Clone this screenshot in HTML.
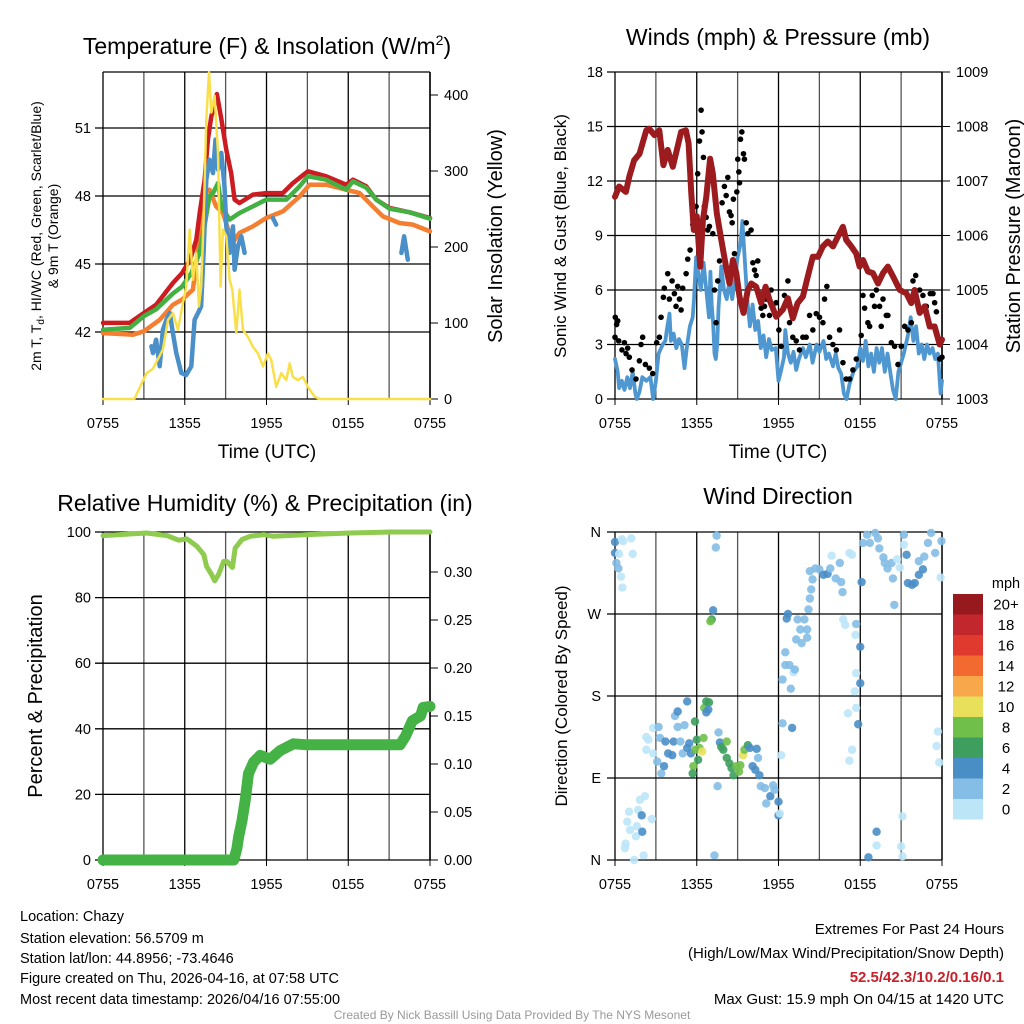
<!DOCTYPE html>
<html><head><meta charset="utf-8"><style>
html,body{margin:0;padding:0;background:#fff;}
svg{display:block;font-family:"Liberation Sans",Arial,sans-serif;}
</style></head><body>
<svg id="c" width="1024" height="1024" viewBox="0 0 1024 1024" xmlns="http://www.w3.org/2000/svg">
<rect width="1024" height="1024" fill="#fff"/>
<text x="267" y="54" font-size="23" text-anchor="middle">Temperature (F) &amp; Insolation (W/m<tspan dy="-9" font-size="14">2</tspan><tspan dy="9">)</tspan></text>
<text x="778" y="45" font-size="23" text-anchor="middle">Winds (mph) &amp; Pressure (mb)</text>
<text x="265" y="511" font-size="23" text-anchor="middle">Relative Humidity (%) &amp; Precipitation (in)</text>
<text x="778" y="504" font-size="23" text-anchor="middle">Wind Direction</text>

<text transform="translate(41,236) rotate(-90)" font-size="14" text-anchor="middle">2m T, T<tspan dy="3" font-size="10">d</tspan><tspan dy="-3">, HI/WC (Red, Green, Scarlet/Blue)</tspan></text>
<text transform="translate(58,236) rotate(-90)" font-size="14" text-anchor="middle">&amp; 9m T (Orange)</text>
<text transform="translate(502,236) rotate(-90)" font-size="20" text-anchor="middle">Solar Insolation (Yellow)</text>
<text transform="translate(566,236) rotate(-90)" font-size="17" text-anchor="middle">Sonic Wind &amp; Gust (Blue, Black)</text>
<text transform="translate(1020,236) rotate(-90)" font-size="20" text-anchor="middle">Station Pressure (Maroon)</text>
<text transform="translate(42,696) rotate(-90)" font-size="20" text-anchor="middle">Percent &amp; Precipitation</text>
<text transform="translate(567,696) rotate(-90)" font-size="17" text-anchor="middle">Direction (Colored By Speed)</text>
<text x="267" y="458" font-size="19" text-anchor="middle">Time (UTC)</text>
<text x="778" y="458" font-size="19" text-anchor="middle">Time (UTC)</text>

<g font-size="14.5">
<text x="20" y="921">Location: Chazy</text>
<text x="20" y="943">Station elevation: 56.5709 m</text>
<text x="20" y="963">Station lat/lon: 44.8956; -73.4646</text>
<text x="20" y="983">Figure created on Thu, 2026-04-16, at 07:58 UTC</text>
<text x="20" y="1004">Most recent data timestamp: 2026/04/16 07:55:00</text>
</g>
<g font-size="15" text-anchor="end">
<text x="1004" y="934">Extremes For Past 24 Hours</text>
<text x="1004" y="958">(High/Low/Max Wind/Precipitation/Snow Depth)</text>
<text x="1004" y="982" fill="#c8202a" font-weight="bold">52.5/42.3/10.2/0.16/0.1</text>
<text x="1004" y="1004">Max Gust: 15.9 mph On 04/15 at 1420 UTC</text>
</g>
<text x="512" y="1019" font-size="12" fill="#999" text-anchor="middle">Created By Nick Bassill Using Data Provided By The NYS Mesonet</text>
<g id="layer"></g>
</svg>
<script>
// ---- data ----
const timeTicks = ["0755","1355","1955","0155","0755"];
const tempTicks = [42,45,48,51];
const solarTicks = [0,100,200,300,400];
const windTicks = [0,3,6,9,12,15,18];
const presTicks = [1003,1004,1005,1006,1007,1008,1009];
const rhTicks = [0,20,40,60,80,100];
const precipTicks = ["0.00","0.05","0.10","0.15","0.20","0.25","0.30"];
const dirTicks = ["N","E","S","W","N"];
const speedBins = ["0","2","4","6","8","10","12","14","16","18","20+"];

const redT = [[0,42.4],[1.96,42.4],[3,42.84],[3.9,43.2],[5.13,44.16],[5.8,44.6],[6.4,45.2],[6.85,46.07],[7.1,47.25],[7.46,48.7],[7.7,50.5],[7.95,51.5],[8.36,52.5],[8.68,51.4],[9.05,50.04],[9.41,49.0],[9.66,47.84],[10.02,47.69],[11,48.06],[11.98,48.13],[13.2,48.13],[13.94,48.57],[15.04,49.09],[16.38,48.87],[17.85,48.5],[18.34,48.72],[19.32,48.43],[20.05,47.84],[21.03,47.47],[22.5,47.28],[24,47.03]];
const greenT = [[0,42.1],[1.96,42.18],[3,42.7],[3.9,43.0],[5.13,43.7],[5.8,44.0],[6.48,44.6],[7.1,45.5],[7.46,46.7],[7.82,48.0],[8.07,48.13],[8.44,48.57],[8.68,47.54],[9.29,46.96],[10.02,47.25],[11,47.54],[11.98,47.84],[13.45,47.84],[14.43,48.43],[15.04,48.87],[16.38,48.72],[17.85,48.28],[18.34,48.65],[19.32,48.37],[20.05,47.84],[21.03,47.44],[22.5,47.28],[24,47.0]];
const orangeT = [[0,41.95],[2.2,41.88],[3,42.03],[4.16,42.54],[5.13,43.2],[5.8,43.43],[6.6,43.87],[7.1,46.22],[7.46,48.13],[7.82,48.28],[8.3,47.54],[8.8,47.25],[9.5,45.93],[10.02,46.37],[11,46.66],[11.98,47.03],[13.2,47.32],[14.43,47.98],[15.16,48.5],[16.38,48.5],[17.85,48.28],[18.83,48.13],[19.8,47.54],[20.54,47.1],[21.76,46.81],[22.74,46.74],[24,46.44]];
const dewSeg1 = [[3.55,41.37],[3.67,41.07],[3.9,41.66],[4.16,40.49],[4.4,42.1],[4.65,42.54],[4.9,42.84],[5.13,41.95],[5.38,41.07],[5.75,40.19],[6.1,40.1],[6.48,40.49],[6.72,42.54],[6.97,42.84],[7.2,43.13],[7.38,45.49],[7.58,48.72],[7.82,49.6],[8.07,49.01],[8.26,50.49],[8.44,49.16],[8.68,49.9],[8.92,48.43],[9.05,46.66],[9.29,45.49],[9.54,46.66],[9.66,44.75],[9.9,45.78],[10.15,46.22],[10.39,45.49]];
const dewSeg2 = [[12.47,47.03],[12.71,46.74]];
const dewSeg3 = [[21.9,45.49],[22.1,46.22],[22.37,45.19]];
const solar = [[0,0],[2.3,0],[3.2,34],[3.67,40],[4.4,65],[4.77,104],[5.13,113],[5.5,91],[5.82,122],[6.11,148],[6.36,223],[6.6,157],[6.85,192],[7.04,122],[7.21,148],[7.38,236],[7.58,368],[7.78,430],[7.95,377],[8.19,399],[8.44,324],[8.63,148],[8.8,223],[9.05,214],[9.29,157],[9.49,144],[9.78,87],[10.02,144],[10.27,91],[10.63,82],[11,69],[11.37,60],[11.74,43],[12.1,60],[12.35,51],[12.71,16],[13.08,34],[13.45,25],[13.7,47],[13.94,29],[14.3,25],[14.67,29],[15.04,16],[15.53,3],[15.9,0],[24,0]];

const windSpd = [[0,2.2],[0.2,1.5],[0.3,0.6],[0.5,1.0],[0.7,0.5],[0.9,1.2],[1.1,0.6],[1.3,1.5],[1.5,0.3],[1.6,0],[1.8,0.4],[2.0,1.2],[2.3,1.0],[2.6,1.2],[2.75,0.3],[2.8,0],[3.0,1],[3.2,2.5],[3.5,3],[3.7,3.2],[3.8,3.8],[4.0,4.7],[4.1,3.2],[4.3,3.6],[4.5,2.8],[4.7,3.3],[4.9,3.0],[5.1,1.7],[5.3,3],[5.5,4],[5.7,4.5],[5.8,5.5],[5.95,7.8],[6.1,7],[6.3,6.0],[6.5,7.5],[6.7,6],[6.9,4.5],[7.0,7],[7.1,5.2],[7.2,4.2],[7.3,2.5],[7.4,2.2],[7.5,3],[7.6,5],[7.8,7.3],[8.0,6],[8.2,5.5],[8.4,6.5],[8.6,5.5],[8.8,6.5],[9.0,7.8],[9.2,8.5],[9.35,9.8],[9.5,8],[9.7,5.5],[9.9,4],[10.1,5.2],[10.3,3.8],[10.5,4.3],[10.7,2.8],[10.9,3.5],[11.1,2.3],[11.3,3.3],[11.5,2.7],[11.8,2.8],[12.0,1.0],[12.2,1.6],[12.4,2.3],[12.5,3.8],[12.7,2.5],[12.9,2.0],[13.1,2.6],[13.3,1.6],[13.5,2.2],[13.8,2.8],[14.0,2.3],[14.3,3.0],[14.5,2.0],[14.8,3.0],[15.0,2.6],[15.3,3.2],[15.5,2.2],[15.7,2.5],[16.0,1.8],[16.2,2.5],[16.4,1.7],[16.6,1.4],[16.8,0.3],[17.0,0],[17.2,0.8],[17.5,1.5],[17.8,1.8],[18.0,2.8],[18.2,2.1],[18.4,3.2],[18.6,1.8],[18.8,2.5],[19.0,1.5],[19.2,2.8],[19.4,2.0],[19.6,2.8],[19.8,1.5],[20.0,2.5],[20.2,1.5],[20.4,0.5],[20.6,0],[20.8,1.5],[21.0,2.0],[21.2,2.5],[21.5,3.5],[21.7,4.5],[21.9,3.2],[22.1,4],[22.3,2.5],[22.5,3],[22.7,2.2],[22.9,3],[23.1,2.5],[23.3,2.8],[23.5,2.2],[23.7,2.5],[23.9,0.3],[24,1.0]];
const gusts = [[0,3.4],[0.02,4.5],[0.12,4.1],[0.2,4.3],[0.27,3.2],[0.51,2.7],[0.69,3.1],[0.81,2.5],[0.93,2.8],[1.05,2.3],[1.25,1.6],[1.54,1.1],[1.79,2.1],[1.91,3.0],[2.03,3.4],[2.23,1.9],[2.52,1.7],[2.77,1.4],[3.06,3.1],[3.26,3.4],[3.38,4.5],[3.62,6.1],[3.55,5.6],[3.87,6.9],[3.99,5.5],[4.19,6.5],[4.36,5.8],[4.48,5.1],[4.6,6.2],[4.73,5.5],[4.85,4.9],[4.97,6.1],[5.22,6.9],[5.34,7.7],[5.51,8.2],[5.71,9.6],[5.95,10.6],[6.07,12.4],[6.2,14.2],[6.32,15.9],[6.39,14.7],[6.49,13.3],[6.56,10.6],[6.69,10.0],[6.81,9.3],[6.93,9.5],[7.18,9.1],[7.3,6.0],[7.42,4.2],[7.54,6.5],[7.67,7.6],[7.86,10.8],[8.03,11.7],[8.16,11.2],[8.28,12.2],[8.4,10.3],[8.52,10.1],[8.6,9.7],[8.69,11.0],[8.77,8.0],[8.94,11.4],[9.01,13.2],[9.09,12.5],[9.14,11.9],[9.21,14.3],[9.31,14.7],[9.43,13.5],[9.5,13.2],[9.63,9.7],[9.75,9.1],[9.99,9.3],[10.12,7.5],[10.24,7.1],[10.36,6.8],[10.48,7.6],[10.6,5.8],[10.73,5.0],[10.85,4.6],[10.97,5.1],[11.09,5.5],[11.34,4.6],[11.46,6.0],[11.58,5.1],[11.83,5.3],[12.03,3.8],[12.2,2.9],[12.44,5.7],[12.69,6.5],[12.81,4.2],[13.05,3.4],[13.3,3.2],[13.54,2.7],[13.79,3.4],[14.03,3.4],[14.28,4.6],[14.52,3.8],[14.77,4.7],[15.01,4.5],[15.26,4.2],[15.38,5.5],[15.55,6.2],[15.75,3.4],[15.99,3.0],[16.24,2.7],[16.48,3.8],[16.73,2.0],[16.97,1.1],[17.22,1.1],[17.46,1.6],[17.71,2.2],[18.07,3.5],[18.2,5.7],[18.32,5.0],[18.56,4.2],[18.69,4.0],[18.88,5.7],[19.05,5.1],[19.18,6.0],[19.42,5.1],[19.54,4.0],[19.67,5.5],[19.91,4.6],[20.03,4.6],[20.28,3.1],[20.52,2.9],[20.77,1.9],[21.01,2.9],[21.26,4.0],[21.5,3.8],[21.75,4.2],[21.87,6.5],[22.07,6.8],[22.36,6.0],[22.6,5.7],[22.85,5.1],[23.14,5.8],[23.34,5.8],[23.46,5.3],[23.59,4.8],[23.83,2.2],[24,2.3]];
const pressure = [[0,1006.71],[0.3,1006.9],[0.8,1006.8],[1.05,1007.08],[1.4,1007.38],[1.8,1007.5],[2.3,1007.93],[2.5,1007.96],[2.9,1007.84],[3.25,1007.93],[3.55,1007.29],[3.87,1007.57],[4.24,1007.26],[4.85,1007.9],[5.2,1007.93],[5.4,1007.69],[5.6,1006.77],[5.78,1006.1],[6.0,1006.35],[6.25,1005.43],[6.45,1006.28],[6.7,1006.71],[6.98,1007.41],[7.18,1007.14],[7.47,1006.41],[7.8,1005.92],[8.15,1005.43],[8.4,1005.12],[8.65,1005.55],[8.9,1005.31],[9.14,1004.88],[9.43,1004.58],[9.75,1005.0],[10.0,1005.12],[10.36,1005.06],[10.73,1004.76],[11.05,1005.06],[11.34,1004.82],[11.83,1004.51],[12.32,1004.64],[12.69,1004.85],[13.05,1004.48],[13.4,1004.76],[13.79,1004.88],[14.15,1005.25],[14.52,1005.61],[14.9,1005.61],[15.26,1005.8],[15.62,1005.89],[16.0,1005.8],[16.36,1005.98],[16.73,1006.16],[16.97,1005.92],[17.34,1005.8],[17.7,1005.67],[17.95,1005.43],[18.2,1005.55],[18.56,1005.34],[18.93,1005.31],[19.3,1005.12],[19.67,1005.31],[20.03,1005.43],[20.4,1005.25],[20.9,1005.0],[21.38,1004.94],[21.75,1004.76],[21.99,1005.0],[22.36,1004.58],[22.73,1004.7],[23.1,1004.33],[23.46,1004.33],[23.83,1004.0],[24,1004.09]];

const rh = [[0,98.9],[3.2,99.7],[4.7,98.9],[5.55,97.5],[6.16,97.9],[6.9,95.6],[7.4,93.1],[7.6,89.5],[7.97,87],[8.2,85.1],[8.48,87],[8.85,91],[9.1,91],[9.5,89.2],[9.7,95.1],[10.2,97.7],[10.8,98.7],[11.8,99.2],[12.5,98.7],[15,99.2],[18.1,99.7],[21.1,100],[24,100]];
const precip = [[0,0],[1,0],[2,0],[3,0],[4,0],[5,0],[6,0],[7,0],[8,0],[9,0],[9.6,0],[9.83,0.012],[9.95,0.024],[10.2,0.041],[10.44,0.062],[10.68,0.09],[11.05,0.102],[11.54,0.109],[12.27,0.105],[13.0,0.114],[13.98,0.121],[15,0.12],[16.2,0.12],[18,0.12],[20,0.12],[21.8,0.12],[22.2,0.129],[22.7,0.145],[23.3,0.15],[23.5,0.159],[24,0.16]];

const dirHours = [0,0,0.1,0.25,0.44,0.54,0.5,0.6,0.3,1.2,1.3,0.73,0.78,0.9,1.03,1.1,1.54,1.6,1.7,1.83,2.2,1.96,2.0,2.7,1.4,2.1,2.3,2.45,2.8,3.2,3.3,2.3,2.8,3.1,3.4,3.6,3.7,3.9,4.2,4.3,4.4,4.6,4.6,5.1,5.3,4.8,4.97,5.3,5.45,5.57,5.87,6.0,5.9,6.1,5.75,5.7,6.2,6.4,6.5,6.55,6.7,6.9,6.85,6.7,7.2,7.1,7.0,7.46,7.4,7.3,7.6,7.53,7.7,7.8,7.95,8.2,8.2,8.4,8.55,8.7,8.9,9.1,9.2,9.4,9.5,9.75,9.9,10.1,10.4,10.5,10.3,10.6,10.7,11.0,11.1,11.4,11.6,11.7,12.0,12.0,12.1,12.3,12.2,12.3,12.5,12.5,12.6,12.7,12.8,12.9,13.0,13.1,13.2,13.3,13.4,13.6,13.7,13.9,14.1,14.1,14.2,14.3,14.4,14.5,14.3,14.7,15.0,15.3,15.6,15.8,15.9,16.2,16.5,16.6,16.7,16.75,16.9,17.2,17.4,17.7,17.65,18.0,17.7,18.0,17.6,17.1,17.7,17.85,17.4,17.2,18.1,18.2,18.5,18.7,19.1,19.3,19.4,19.7,19.8,20.0,20.3,20.4,20.5,20.7,20.9,21.2,21.2,21.4,21.5,21.8,22.0,22.3,22.6,22.3,22.7,22.97,23.2,23.5,23.9,23.96,23.7,23.6,23.8,19.2,19.2,18.6,21.1,21.0,21.1];
const dirDeg = [349,337,326,320,311,299,352,350,336,353,336,13,18,42,53,33,26,37,55,66,70,49,31,45,0,5,135,132,145,146,134,121,117,108,95,103,130,117,115,130,158,163,146,148,174,130,117,123,128,117,152,132,121,110,103,95,123,119,134,167,174,173,165,162,274,264,262,356,343,5,140,81,129,124,121,130,112,106,101,93,103,97,104,115,121,126,123,103,122,112,99,93,81,79,62,70,82,77,64,49,51,150,115,198,214,228,265,270,214,188,145,206,209,242,264,253,238,264,253,244,275,287,297,308,317,320,319,313,314,320,334,309,326,305,294,264,258,337,335,259,247,234,205,194,185,161,167,149,121,109,305,348,357,348,359,353,342,332,326,320,326,309,280,330,321,357,346,335,304,302,304,313,319,328,333,348,359,337,310,350,141,125,107,31,16,3,48,15,4];
const dirSpeed = [4.5,4,3,3,1,1,1,1,1,1,1,1,1,1,1,1,1,1,1,1,1,4.5,4.5,1,1,1,1,1,1,3,3,1,1,3,3,4.5,4.5,4.5,4.5,4.5,3,4.5,3,3,4.5,3,3,4.5,4.5,4.5,7,7,8,7,8,7,8,11,8,8,7,7,4.5,4.5,4.5,7,8,3,3,3,3,3,4.5,7,7,8,7,7,7,7,8,8,8,11,8,7,4.5,4.5,4.5,3,4.5,4.5,3,3,3,4.5,3,3,4.5,4.5,1,3,1,3,3,3,4.5,4.5,3,3,4.5,1,3,3,3,3,3,3,3,3,3,3,3,3,3,3,3,4.5,4.5,3,1,3,3,3,3,1,1,1,1,3,1,4.5,1,4.5,1,1,1,4.5,1,1,4.5,3,3,3,3,3,3,3,3,3,3,3,3,1,1,3,1,4.5,4.5,4.5,4.5,4.5,4.5,3,3,3,3,3,1,3,1,1,1,4.5,1,4.5,1,1,1];
const binColors = ["#bde5f8","#84bde6","#4a8ec6","#3e9e5e","#6fbf4a","#e8e05a","#f8a84a","#f26a30","#e03a2e","#c1272d","#961a1d"];

// ---- helpers ----
const NS = "http://www.w3.org/2000/svg";
const layer = document.getElementById("layer");
function mk(tag, attrs, parent){const e=document.createElementNS(NS,tag);for(const k in attrs)e.setAttribute(k,attrs[k]);(parent||layer).appendChild(e);return e;}
function scale(d0,d1,r0,r1){return v=>r0+(v-d0)/(d1-d0)*(r1-r0);}

const P1={x0:103,x1:430,y0:72,y1:399}, P2={x0:615,x1:942,y0:72,y1:399}, P3={x0:103,x1:430,y0:532,y1:860}, P4={x0:615,x1:942,y0:532,y1:860};
const x1s=scale(0,24,P1.x0,P1.x1), x2s=scale(0,24,P2.x0,P2.x1), x3s=scale(0,24,P3.x0,P3.x1), x4s=scale(0,24,P4.x0,P4.x1);
const tY=scale(42,51,332,128), sY=scale(0,400,399,95);
const wY=scale(0,18,399,72), pY=scale(1003,1009,399,72);
const rY=scale(0,100,860,532), qY=scale(0,0.3,860,572);
const dY=scale(0,360,860,532);

function frame(P,xs,name){
  const g=mk("g",{});
  
  
  for(let h=0;h<=24;h+=3){mk("line",{x1:xs(h),x2:xs(h),y1:P.y0,y2:P.y1,stroke:(h%6==0)?"#000":"#555","stroke-width":1.3},g);}
  timeTicks.forEach((t,i)=>{const tx=mk("text",{x:xs(i*6),y:P.y1+29,"font-size":14.5,"text-anchor":"middle"},g);tx.textContent=t;
    
    
    mk("line",{x1:xs(i*6),x2:xs(i*6),y1:P.y1,y2:P.y1+6,stroke:"#000"},g);});
  return g;
}
function hline(P,y,g){mk("line",{x1:P.x0-8,x2:P.x1,y1:y,y2:y,stroke:"#000","stroke-width":1.3},g);}
function ltext(x,y,s,anchor,g,size){const t=mk("text",{x:x,y:y+5,"font-size":size||14.5,"text-anchor":anchor},g);t.textContent=s;
  
  return t;}
function rticks(P,vals,ys,g,fmt){vals.forEach(v=>{const y=ys(v);mk("line",{x1:P.x1,x2:P.x1+8,y1:y,y2:y,stroke:"#000"},g);ltext(P.x1+14,y,fmt?fmt(v):String(v),"start",g);});}
function path(pts,xs,ys,stroke,w,name,extra){
  const d=pts.map((p,i)=>(i?"L":"M")+xs(p[0]).toFixed(1)+","+ys(p[1]).toFixed(1)).join("");
  const e=mk("path",Object.assign({d:d,fill:"none",stroke:stroke,"stroke-width":w,"stroke-linejoin":"round","stroke-linecap":"round"},extra||{}));
  
  
  return e;
}

// Panel 1
let g=frame(P1,x1s,"temp");
tempTicks.forEach(v=>{hline(P1,tY(v),g);ltext(P1.x0-12,tY(v),String(v),"end",g);});
rticks(P1,solarTicks,sY,g);
mk("line",{x1:P1.x0,x2:P1.x1,y1:P1.y0,y2:P1.y0,stroke:"#000","stroke-width":1.3},g);
mk("line",{x1:P1.x0,x2:P1.x1,y1:P1.y1,y2:P1.y1,stroke:"#000","stroke-width":1.3},g);
mk("line",{x1:P1.x1,x2:P1.x1,y1:P1.y0,y2:P1.y1,stroke:"#000","stroke-width":1.5},g);
path(orangeT,x1s,tY,"#f47f30",4.5,"orange-9m-temp-line");
path(redT,x1s,tY,"#cc1c22",4.5,"red-2m-temp-line");
path(greenT,x1s,tY,"#43b043",4.5,"green-dewpoint-line");
path(dewSeg1,x1s,tY,"#4a8fc8",4.5,"blue-hiwc-line");
path(dewSeg2,x1s,tY,"#4a8fc8",4.5,"blue-hiwc-line-2");
path(dewSeg3,x1s,tY,"#4a8fc8",4.5,"blue-hiwc-line-3");
path(solar,x1s,sY,"#f9e04b",2.5,"solar-insolation-line");

// Panel 2
g=frame(P2,x2s,"wind");
windTicks.forEach(v=>{hline(P2,wY(v),g);ltext(P2.x0-12,wY(v),String(v),"end",g);});
rticks(P2,presTicks,pY,g);
mk("line",{x1:P2.x1,x2:P2.x1,y1:P2.y0,y2:P2.y1,stroke:"#000","stroke-width":1.5},g);
path(windSpd,x2s,wY,"#4f97d0",3.8,"sonic-wind-line");
gusts.forEach(p=>{const c=mk("circle",{cx:x2s(p[0]),cy:wY(p[1]),r:2.8,fill:"#000"});
  
  });
path(pressure,x2s,pY,"#9b1b1e",6,"station-pressure-line");

// Panel 3
g=frame(P3,x3s,"rh");
rhTicks.forEach(v=>{hline(P3,rY(v),g);ltext(P3.x0-12,rY(v),String(v),"end",g);});
precipTicks.forEach(v=>{const y=qY(parseFloat(v));mk("line",{x1:P3.x1,x2:P3.x1+8,y1:y,y2:y,stroke:"#000"},g);ltext(P3.x1+14,y,v,"start",g);});
mk("line",{x1:P3.x1,x2:P3.x1,y1:P3.y0,y2:P3.y1,stroke:"#000","stroke-width":1.5},g);
path(rh,x3s,rY,"#8fcb4f",5,"relative-humidity-line");
path(precip,x3s,qY,"#45b246",11,"precipitation-line");

// Panel 4
g=frame(P4,x4s,"dir");
dirTicks.forEach((s,i)=>{const y=dY(i*90);hline(P4,y,g);ltext(P4.x0-14,y,s,"end",g);});
mk("line",{x1:P4.x1,x2:P4.x1,y1:P4.y0,y2:P4.y1,stroke:"#000","stroke-width":1.3},g);
dirHours.forEach((h,i)=>{const b=Math.min(10,Math.floor(dirSpeed[i]/2));
  const c=mk("circle",{cx:x4s(h),cy:dY(dirDeg[i]),r:4.2,fill:binColors[b],"fill-opacity":0.9});
  
  });

// Colorbar
const cb=mk("g",{});


const mph=mk("text",{x:1006,y:588,"font-size":14.5,"text-anchor":"middle"},cb);mph.textContent="mph";
speedBins.forEach((s,i)=>{const k=10-i;const y=594+k*20.5;
  mk("rect",{x:953,y:y,width:30,height:20.5,fill:binColors[i]},cb);
  const t=mk("text",{x:1006,y:y+15.5,"font-size":15,"text-anchor":"middle"},cb);t.textContent=s;
  
  });
</script>
</body></html>
